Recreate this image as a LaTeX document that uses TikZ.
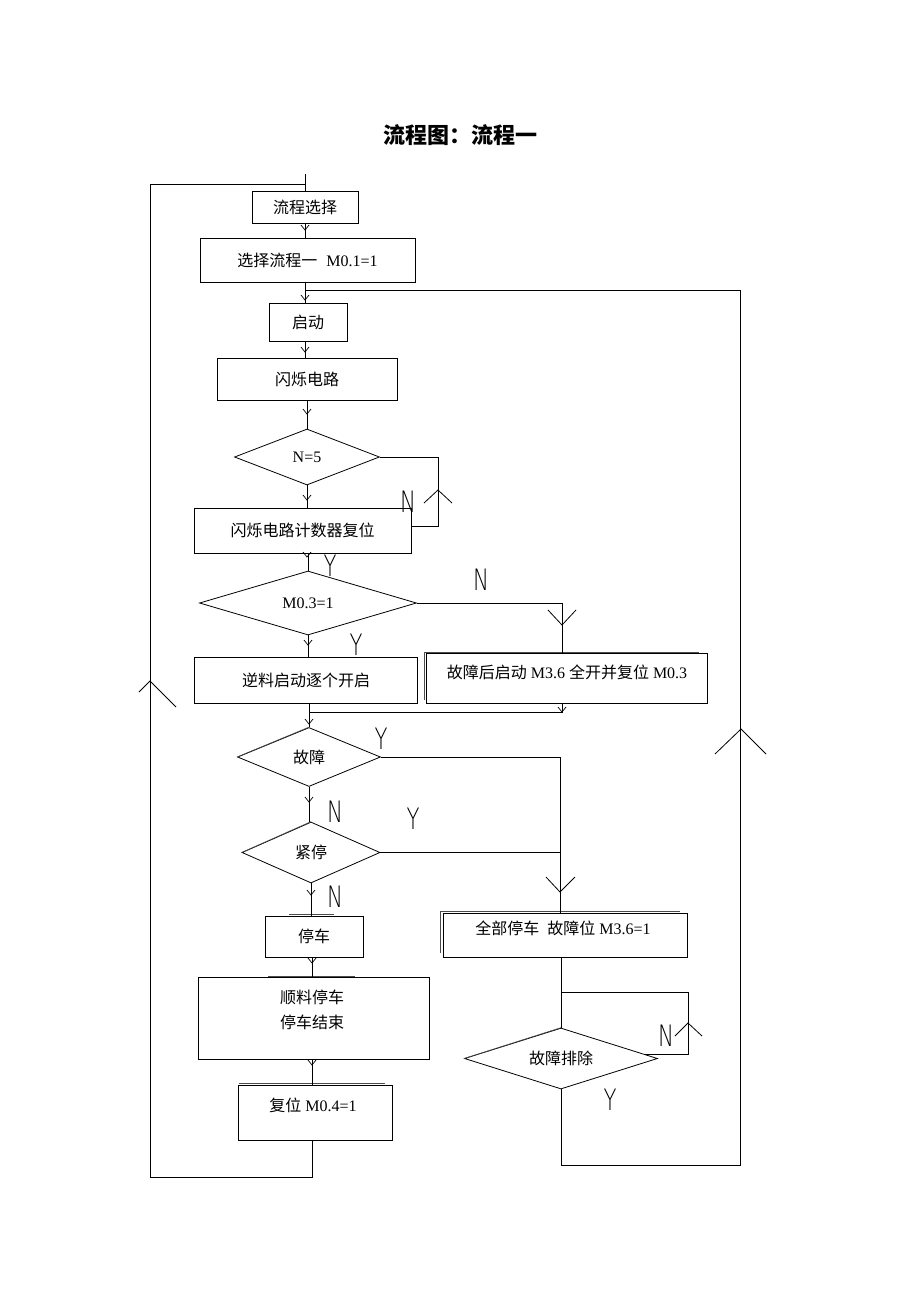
\documentclass[tikz,border=0pt]{standalone}
\usepackage{fontspec}
\setmainfont{Liberation Serif}
\newfontfamily\zhfont{Noto Sans CJK SC}
\newfontfamily\lblfont{DejaVu Sans ExtraLight}
\usetikzlibrary{shapes.geometric}
\newcommand\zh[1]{{\zhfont #1}}
\newcommand\yn[1]{\scalebox{0.72}[1]{#1}}
\begin{document}
\begin{tikzpicture}[x=1pt,y=-1pt,line width=0.8pt,
  box/.style={draw,rectangle,inner sep=0pt,font=\fontsize{16}{19}\selectfont},
  dia/.style={draw,diamond,aspect=3,inner sep=0pt,font=\fontsize{16}{19}\selectfont},
  txt/.style={inner sep=0pt,font=\fontsize{16}{19}\selectfont},
  lbl/.style={inner sep=0pt,font=\lblfont\fontsize{29.5}{30}\selectfont},
  sdown/.pic={\draw[line width=0.7pt] (-4,-5)--(0,0)--(4,-5);},
  ghost/.style={line width=0.6pt,black!70}]
\fill[white] (0,0) rectangle (920,1302);
\useasboundingbox (0,0) rectangle (920,1302);

% title
\node[inner sep=0pt,font=\zhfont\bfseries\fontsize{22}{24}\selectfont] (title) at (460,135) {流程图：流程一};

% boxes and decisions
\node[box,minimum width=106pt,minimum height=32pt] (b1) at (305,207) {\zh{流程选择}};
\node[box,minimum width=215pt,minimum height=44pt] (b2) at (307.5,260) {\zh{选择流程一}\hspace{9pt}M0.1=1};
\node[box,minimum width=78pt,minimum height=38pt] (b3) at (308,322.5) {\zh{启动}};
\node[box,minimum width=180pt,minimum height=42pt] (b4) at (307,379) {\zh{闪烁电路}};
\node[dia,minimum width=145pt,minimum height=56pt] (d1) at (307,457) {N=5};
\node[box,minimum width=217pt,minimum height=45pt] (b5) at (302.5,530.5) {\zh{闪烁电路计数器复位}};
\node[dia,minimum width=217pt,minimum height=64pt] (d2) at (308,603) {M0.3=1};
\node[box,minimum width=223pt,minimum height=46pt] (b6) at (306,680) {\zh{逆料启动逐个开启}};
\node[box,minimum width=281pt,minimum height=50pt] (b7) at (566.5,678) {};
\node[txt] (t7) at (567,672) {\zh{故障后启动} M3.6 \zh{全开并复位} M0.3};
\node[dia,minimum width=143pt,minimum height=59pt] (d3) at (309,757) {\zh{故障}};
\node[dia,minimum width=138pt,minimum height=61pt] (d4) at (311,852.5) {\zh{紧停}};
\node[box,minimum width=98pt,minimum height=41pt] (b8) at (314,936.5) {\zh{停车}};
\node[box,minimum width=231pt,minimum height=82pt] (b9) at (313.5,1018) {};
\node[txt] (t9a) at (312,997) {\zh{顺料停车}};
\node[txt] (t9b) at (312,1022) {\zh{停车结束}};
\node[box,minimum width=154pt,minimum height=55pt] (b10) at (315,1112.5) {};
\node[txt] (t10) at (313,1105) {\zh{复位} M0.4=1};
\node[box,minimum width=244pt,minimum height=44pt] (b11) at (565,935) {};
\node[txt] (t11) at (563,928) {\zh{全部停车}\hspace{8pt}\zh{故障位} M3.6=1};
\node[dia,minimum width=193pt,minimum height=61pt] (d5) at (561,1058.5) {\zh{故障排除}};

% ghost edges (double outlines in the original)
\draw[ghost] (424,700) -- (424,652) -- (699,652);
\draw[ghost] (440,953) -- (440,911) -- (680,911);
\draw[ghost] (289,914) -- (334,914);
\draw[ghost] (268,976) -- (355,976);
\draw[ghost] (239,1083) -- (385,1083);
\draw[ghost,yshift=1.2pt] (d3.west) -- (d3.north);
\draw[ghost,yshift=1.2pt] (d4.west) -- (d4.north);
\draw[ghost,yshift=1.2pt] (d5.west) -- (d5.north);

% helper coordinates
\coordinate (xa) at (305,0);
\coordinate (xd) at (312,0);
\coordinate (xr) at (560,0);
\coordinate (xr2) at (562,0);
\coordinate (tt) at (305,174);
\coordinate (lt) at (150,184);
\coordinate (lb) at (150,1177);
\coordinate (rt) at (740,290);
\coordinate (rb) at (740,1165);
\coordinate (n5a) at (438,457);
\coordinate (n5b) at (438,526);
\coordinate (mj) at (309,712);
\coordinate (fl1) at (688,1054);
\coordinate (fl2) at (688,992);

% main column
\draw (tt) -- (b1.north);
\draw (b1.south) -- (b1.south |- b2.north);
\draw (b2.south -| xa) -- (b3.north -| xa);
\draw (b3.south -| xa) -- (b4.north -| xa);
\draw (b4.south -| d1.north) -- (d1.north);
\draw (d1.south) -- (d1.south |- b5.north);
\draw (b5.south -| d2.north) -- (d2.north);
\draw (d2.south) -- (d2.south |- b6.north);
\draw (b6.south -| d3.north) -- (d3.north);
\draw (d3.south) -- (d3.south |- d4.north);
\draw (d4.south) -- (d4.south |- b8.north);
\draw (b8.south -| xd) -- (b9.north -| xd);
\draw (b9.south -| xd) -- (b10.north -| xd);

% outer left loop
\draw (b10.south -| xd) |- (lb) -- (lt) -- (lt -| b1.north);
% outer right loop
\draw (d5.south) -- (d5.south |- rb) -- (rb) -- (rt) -- (rt -| xa);
% N=5 loop
\draw (d1.east) -- (n5a) -- (n5b) -- (n5b -| b5.east);
% M0.3 = 1, N branch
\draw (d2.east) -| (b7.north -| xr2);
% merge from b7
\draw (b7.south -| xr2) |- (mj);
% fault / emergency stop branches
\draw (d3.east) -| (b11.north -| xr);
\draw (d4.east) -- (d4.east -| xr);
\draw (b11.south -| d5.north) -- (d5.north);
% fault cleared loop
\draw (d5.3) -- (d5.3 -| fl1) -- (fl2) -- (fl2 -| d5.north);

% small arrow heads
\pic at (305,230) {sdown};
\pic at (305,300) {sdown};
\pic at (305,352) {sdown};
\pic at (307,414) {sdown};
\pic at (307,500) {sdown};
\pic at (307,557) {sdown};
\pic at (308,645) {sdown};
\pic at (562,712) {sdown};
\pic at (309,724) {sdown};
\pic at (309,802) {sdown};
\pic at (311,895) {sdown};
\pic at (312,963) {sdown};
\pic at (312,1065) {sdown};

% large open arrow heads
\draw (548,610) -- (562,625) -- (576,610);
\draw (546,877) -- (560,892) -- (575,877);
\draw (424,503) -- (438,490) -- (452,503);
\draw (139,692) -- (150,681) -- (176,707);
\draw (715,754) -- (741,729) -- (766,754);
\draw (675,1036) -- (688,1023) -- (702,1036);

% Y / N labels
\node[lbl] (l1) at (408,502) {\yn{N}};
\node[lbl] (l2) at (330,566) {\yn{Y}};
\node[lbl] (l3) at (481,580) {\yn{N}};
\node[lbl] (l4) at (356,645) {\yn{Y}};
\node[lbl] (l5) at (381,739) {\yn{Y}};
\node[lbl] (l6) at (335,812) {\yn{N}};
\node[lbl] (l7) at (413,819) {\yn{Y}};
\node[lbl] (l8) at (335,897) {\yn{N}};
\node[lbl] (l9) at (666,1036) {\yn{N}};
\node[lbl] (l10) at (610,1100) {\yn{Y}};
\end{tikzpicture}
\end{document}
